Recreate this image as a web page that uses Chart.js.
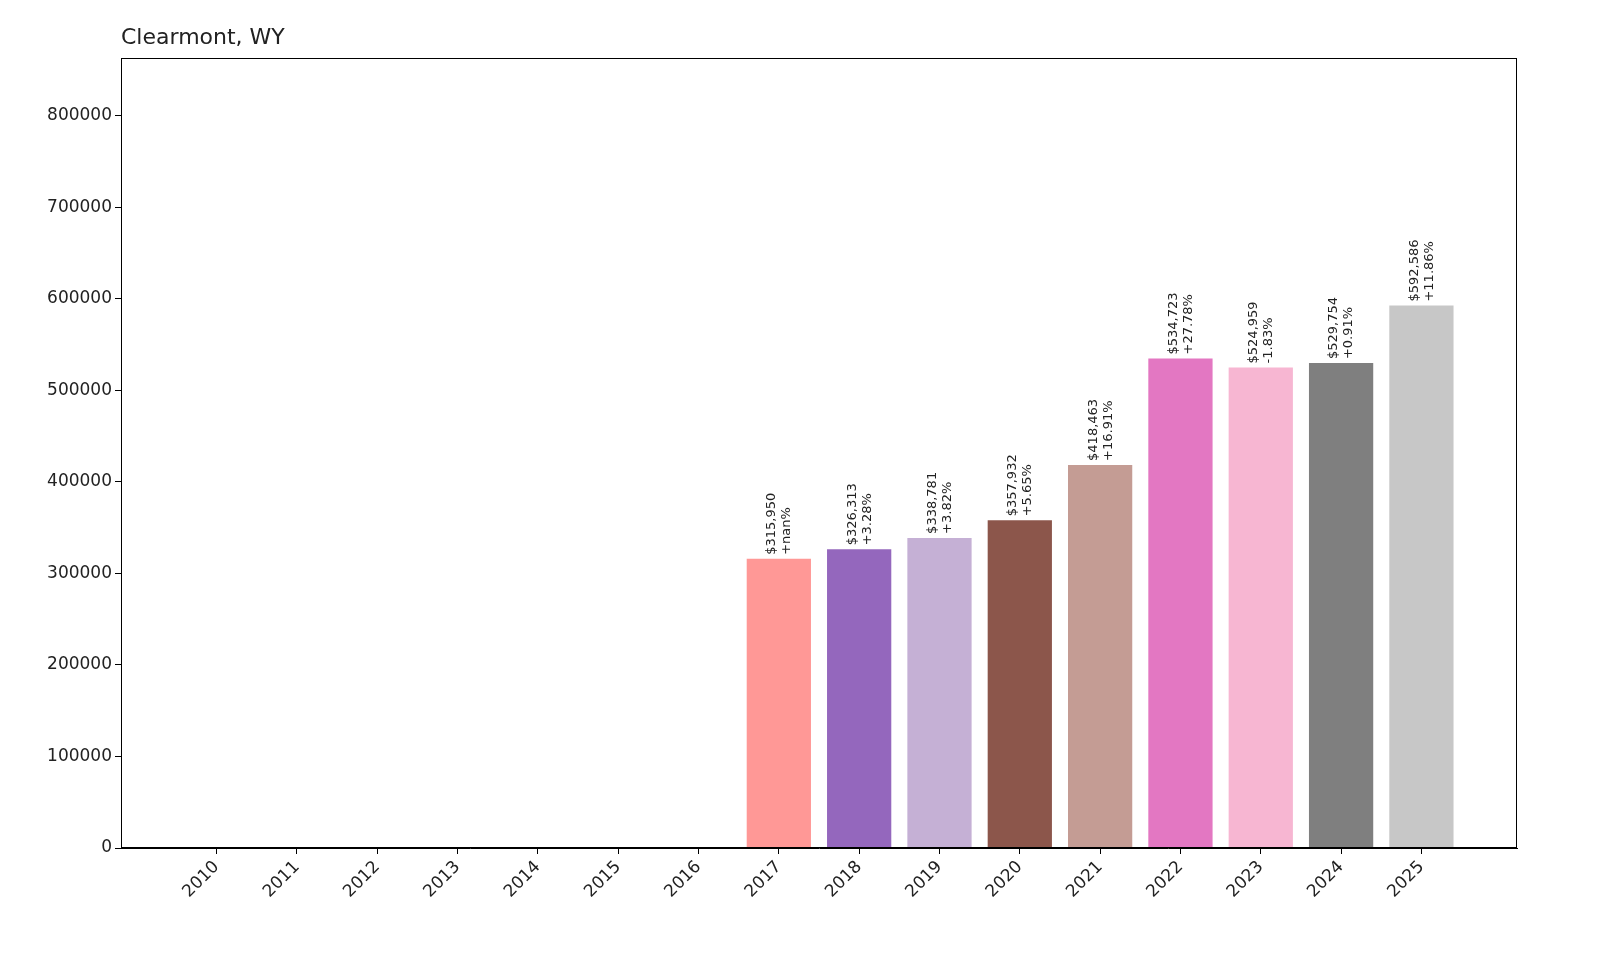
<!DOCTYPE html>
<html><head><meta charset="utf-8">
<script src="https://cdn.jsdelivr.net/npm/chart.js@4"></script>
<style>html,body{margin:0;padding:0;background:#fff;overflow:hidden}</style>
</head><body><canvas id="c" width="1600" height="960" style="width:1600px;height:960px;display:block"></canvas>
<script>
const years = [2010,2011,2012,2013,2014,2015,2016,2017,2018,2019,2020,2021,2022,2023,2024,2025];
const values = [0,0,0,0,0,0,0,315950,326313,338781,357932,418463,534723,524959,529754,592586];
const pctLabels = ["","","","","","","","+nan%","+3.28%","+3.82%","+5.65%","+16.91%","+27.78%","-1.83%","+0.91%","+11.86%"];
const colors = ["#1f77b4","#aec7e8","#ff7f0e","#ffbb78","#2ca02c","#98df8a","#d62728","#ff9896","#9467bd","#c5b0d5","#8c564b","#c49c94","#e377c2","#f7b6d2","#7f7f7f","#c7c7c7"];
const title = "Clearmont, WY";
const font = "DejaVu Sans";

const deco = {
  id:'deco',
  afterDatasetsDraw(chart){
    const {ctx, chartArea:a, scales:{x,y}} = chart;
    ctx.save();
    ctx.strokeStyle='#000'; ctx.lineWidth=1;
    ctx.strokeRect(a.left+0.5,a.top+0.5,a.right-a.left-1,a.bottom-a.top-1);
    ctx.fillStyle='#222'; ctx.font='22px "'+font+'"'; ctx.textBaseline='alphabetic'; ctx.textAlign='left';
    ctx.fillText(title, a.left, 44);
    ctx.font='13px "'+font+'"';
    values.forEach((v,i)=>{
      if(!v) return;
      const px=x.getPixelForValue(i), py=y.getPixelForValue(v);
      ctx.save(); ctx.translate(px,py-4); ctx.rotate(-Math.PI/2);
      ctx.textAlign='left'; ctx.textBaseline='middle';
      ctx.fillText('$'+v.toLocaleString('en-US'),0,-7);
      ctx.fillText(pctLabels[i],0,8);
      ctx.restore();
    });
    ctx.restore();
  }
};

new Chart(document.getElementById('c'),{
  type:'bar',
  data:{datasets:[{data:values.map((v,i)=>({x:i,y:v})),backgroundColor:colors,barPercentage:0.8,categoryPercentage:1}]},
  options:{
    responsive:false,animation:false,devicePixelRatio:1,
    layout:{padding:{top:58,right:83,left:0,bottom:0}},
    plugins:{legend:{display:false},tooltip:{enabled:false}},
    scales:{
      x:{type:'linear',min:-1.19,max:16.19,offset:false,
        afterFit(s){s.height=112;},
        afterBuildTicks(s){s.ticks=years.map((y,i)=>({value:i}));},
        ticks:{autoSkip:false,maxRotation:45,minRotation:45,color:'#222',font:{family:font,size:17},callback:(v)=>years[v]},
        grid:{offset:false,drawOnChartArea:false,tickLength:6,color:'#000'},border:{color:'#000'}},
      y:{min:0,max:863000,
        afterFit(s){s.width=121;},
        afterBuildTicks(s){s.ticks=[0,1,2,3,4,5,6,7,8].map(k=>({value:k*100000}));},
        ticks:{color:'#222',font:{family:font,size:17},callback:v=>String(v)},
        grid:{drawOnChartArea:false,tickLength:6,color:'#000'},border:{color:'#000'}}
    }
  },
  plugins:[deco]
});
</script></body></html>
